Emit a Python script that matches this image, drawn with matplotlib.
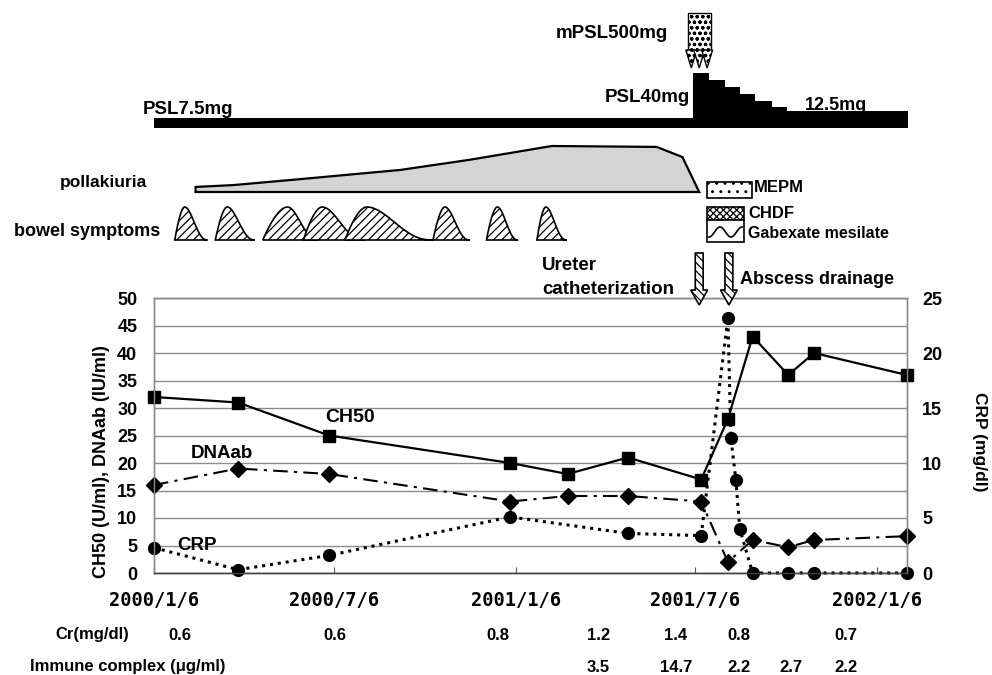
# -*- coding: utf-8 -*-
import numpy as np
import pandas as pd
import matplotlib
matplotlib.use("Agg")
import matplotlib.pyplot as plt
import matplotlib.dates as mdates
from matplotlib.patches import Rectangle, Polygon, FancyArrow
from matplotlib.transforms import blended_transform_factory

plt.rcParams['font.family'] = ['Liberation Sans', 'DejaVu Sans']
plt.rcParams['font.weight'] = 'bold'
plt.rcParams['hatch.linewidth'] = 0.9

# 检查值 (CH50, DNAab: 左轴; CRP: 右轴)
lab_dates = pd.to_datetime(["2000-01-06", "2000-03-31", "2000-07-01", "2000-12-31",
                            "2001-02-27", "2001-04-29", "2001-07-12", "2001-08-08",
                            "2001-09-02", "2001-10-08", "2001-11-03", "2002-02-05"])
ch50 = [32, 31, 25, 20, 18, 21, 17, 28, 43, 36, 40, 36]
dnaab = [16, 19, 18, 13, 14, 14, 13, 2, 6, 4.7, 6, 6.7]

crp_dates = pd.to_datetime(["2000-01-06", "2000-03-31", "2000-07-01", "2000-12-31",
                            "2001-04-29", "2001-07-12", "2001-08-08", "2001-08-11",
                            "2001-08-16", "2001-08-20", "2001-09-02", "2001-10-08",
                            "2001-11-03", "2002-02-05"])
crp = [2.3, 0.3, 1.6, 5.1, 3.6, 3.4, 23.2, 12.3, 8.5, 4.0, 0, 0, 0, 0]

xtick_dates = pd.to_datetime(["2000-01-06", "2000-07-06", "2001-01-06",
                              "2001-07-06", "2002-01-06"])
xtick_labels = ["2000/1/6", "2000/7/6", "2001/1/6", "2001/7/6", "2002/1/6"]

# 治疗经过
psl_dates = pd.to_datetime(["2000-01-04", "2001-07-04", "2001-07-20", "2001-08-05",
                            "2001-08-20", "2001-09-04", "2001-09-22", "2001-10-07",
                            "2002-02-11"])
psl_dose = [7.5, 40, 35, 30, 25, 20, 15, 12.5]
mpsl_date = pd.Timestamp("2001-07-10")
ureter_date = pd.Timestamp("2001-07-10")
drainage_date = pd.Timestamp("2001-08-09")

# 症状
poll_dates = pd.to_datetime(["2000-02-17", "2000-03-26", "2000-06-02", "2000-09-11",
                             "2000-11-20", "2001-02-11", "2001-05-28", "2001-06-23",
                             "2001-07-10"])
poll_level = [1.1, 1.5, 2.8, 4.8, 7.0, 10.0, 9.8, 7.6, 0.0]

bowel_onset = pd.to_datetime(["2000-01-27", "2000-03-08", "2000-04-25", "2000-06-05",
                              "2000-07-17", "2000-10-14", "2000-12-07", "2001-01-27"])
bowel_peak = pd.to_datetime(["2000-02-06", "2000-03-20", "2000-05-20", "2000-06-24",
                             "2000-08-08", "2000-10-26", "2000-12-18", "2001-02-05"])
bowel_end = pd.to_datetime(["2000-02-29", "2000-04-17", "2000-06-20", "2000-08-06",
                            "2000-10-14", "2000-11-20", "2001-01-08", "2001-02-26"])

# 下方表格
cr_dates = pd.to_datetime(["2000-02-01", "2000-07-07", "2000-12-19", "2001-03-30",
                           "2001-06-16", "2001-08-19", "2001-12-05"])
cr_values = ["0.6", "0.6", "0.8", "1.2", "1.4", "0.8", "0.7"]
ic_dates = pd.to_datetime(["2001-03-30", "2001-06-17", "2001-08-19", "2001-10-11",
                           "2001-12-05"])
ic_values = ["3.5", "14.7", "2.2", "2.7", "2.2"]

W, H = 992, 675
fig = plt.figure(figsize=(W / 100, H / 100), dpi=100)
fig.patch.set_facecolor('white')

ax = fig.add_axes([154 / W, 1 - 573 / H, (907 - 154) / W, (573 - 298) / H])
ax2 = ax.twinx()
top = fig.add_axes([154 / W, 1 - 298 / H, (907 - 154) / W, 298 / H], sharex=ax)
top.set_facecolor('none')
over = fig.add_axes([0, 0, 1, 1])
over.set_facecolor('none')

# ---------- 主图 ----------
ax.plot(lab_dates, ch50, color='black', lw=1.6, marker='s', ms=8.5, zorder=3, clip_on=False)
ax.plot(lab_dates, dnaab, color='black', lw=1.5, ls=(0, (7, 3, 1.5, 3)),
        marker='D', ms=8, zorder=3, clip_on=False)
ax2.plot(crp_dates, crp, color='black', lw=2.2, ls=(0, (1, 1.6)),
         marker='o', ms=8.5, clip_on=False)

ax.set_xlim(lab_dates[0], lab_dates[-1])
ax.set_ylim(0, 50)
ax.set_yticks(np.arange(0, 51, 5))
ax2.set_ylim(0, 25)
ax2.set_yticks(np.arange(0, 26, 5))
ax.set_xticks(xtick_dates)
ax.set_xticklabels(xtick_labels, fontfamily='DejaVu Sans Mono', fontsize=13.5,
                   fontweight='bold')
ax.tick_params(axis='x', direction='in', length=4, color='#555555', pad=13)
ax.tick_params(axis='y', length=0, pad=12, labelsize=13)
ax2.tick_params(axis='y', length=0, pad=11, labelsize=13)
ax.yaxis.grid(True, color='#8c8c8c', lw=1.0)
ax.set_axisbelow(True)
for a in (ax, ax2):
    for s in a.spines.values():
        s.set_color('#8c8c8c')
        s.set_linewidth(1.0)
    a.spines['bottom'].set_color('#444444')

# ---------- 上方治疗/症状 ----------
top.set_ylim(298, 0)
top.axis('off')

# PSL 剂量条
px_per_mg = 1.375
bar_base = 128
psl_x = mdates.date2num(psl_dates)
psl_y = np.array(psl_dose + [psl_dose[-1]])
top.fill_between(psl_x, bar_base, bar_base - psl_y * px_per_mg, step='post',
                 color='black', lw=0)

# mPSL 脉冲箭头
cx = mdates.date2num(mpsl_date)
top.add_patch(Rectangle((cx - 11.5, 13), 23, 38, fc='white', ec='black',
                        hatch='ooo', lw=1.0))
for dx in (-8, 0, 8):
    top.add_patch(Polygon([(cx + dx - 5.5, 50), (cx + dx + 5.5, 50), (cx + dx, 68)],
                          closed=True, fc='white', ec='black', hatch='ooo', lw=1.0))

# 尿频
px = mdates.date2num(poll_dates)
poll_base = 192
verts = [(px[0], poll_base)] + [(x, poll_base - v * 4.6) for x, v in zip(px, poll_level)]
top.add_patch(Polygon(verts, closed=True, fc='#d4d4d4', ec='black', lw=1.6))

# 肠道症状
bowel_base = 240
u = np.linspace(0, 1, 40)
s = 3 * u ** 2 - 2 * u ** 3
for x0, xp, x1 in zip(mdates.date2num(bowel_onset), mdates.date2num(bowel_peak),
                      mdates.date2num(bowel_end)):
    xs = np.concatenate([x0 + (xp - x0) * u, xp + (x1 - xp) * u])
    ys = np.concatenate([bowel_base - 33 * np.sqrt(s), bowel_base - 33 * (1 - s) ** 1.3])
    top.add_patch(Polygon(np.column_stack([xs, ys]), closed=True, fc='white',
                          ec='black', hatch='////', lw=1.2))

# 输尿管导管 / 脓肿引流 箭头
for d in (ureter_date, drainage_date):
    top.add_patch(FancyArrow(mdates.date2num(d), 253, 0, 52, width=8, head_width=17,
                             head_length=15, length_includes_head=True, fc='white',
                             ec='black', hatch='\\\\\\\\', lw=1.2, clip_on=False))

# ---------- 文字与图例 ----------
over.set_xlim(0, W)
over.set_ylim(H, 0)
over.axis('off')

over.text(143, 109, "PSL7.5mg", fontsize=13.5, ha='left', va='center')
over.text(668, 33, "mPSL500mg", fontsize=13.5, ha='right', va='center')
over.text(690, 97, "PSL40mg", fontsize=13.5, ha='right', va='center')
over.text(805, 106, "12.5mg", fontsize=13, ha='left', va='center')
over.text(147, 183, "pollakiuria", fontsize=12.5, ha='right', va='center')
over.text(160, 232, "bowel symptoms", fontsize=13, ha='right', va='center')

over.add_patch(Rectangle((707, 182), 45, 16, fc='white', ec='black', hatch='..', lw=1.2))
over.text(754, 188, "MEPM", fontsize=12, ha='left', va='center')
over.add_patch(Rectangle((707, 207), 37, 13, fc='white', ec='black', hatch='xxxxx', lw=1.2))
over.add_patch(Rectangle((707, 220), 37, 22, fc='white', ec='black', lw=1.2))
wx = np.linspace(709, 742, 60)
over.plot(wx, 232 + 5 * np.sin((wx - 709) / 33 * 3 * np.pi + np.pi / 2), color='black', lw=1.2)
over.text(748, 214, "CHDF", fontsize=12, ha='left', va='center')
over.text(748, 234, "Gabexate mesilate", fontsize=11.5, ha='left', va='center')

over.text(542, 265, "Ureter", fontsize=13.5, ha='left', va='center')
over.text(542, 290, "catheterization", fontsize=13.5, ha='left', va='center')
over.text(740, 279, "Abscess drainage", fontsize=13, ha='left', va='center')

over.text(350, 418, "CH50", fontsize=14, ha='center', va='center')
over.text(222, 453, "DNAab", fontsize=13.5, ha='center', va='center')
over.text(197, 546, "CRP", fontsize=13.5, ha='center', va='center')

over.text(102, 462, "CH50 (U/ml), DNAab (IU/ml)", fontsize=13, rotation=90,
          ha='center', va='center')
over.text(980, 442, "CRP (mg/dl)", fontsize=12.5, rotation=-90, ha='center', va='center')

# 下方 Cr 与免疫复合物
blend = blended_transform_factory(ax.transData, over.transData)
over.text(55, 635, "Cr(mg/dl)", fontsize=12, ha='left', va='center')
over.text(30, 667, "Immune complex (μg/ml)", fontsize=12, ha='left', va='center')
for d, v in zip(cr_dates, cr_values):
    over.text(mdates.date2num(d), 635, v, fontsize=12, ha='center', va='center',
              transform=blend)
for d, v in zip(ic_dates, ic_values):
    over.text(mdates.date2num(d), 667, v, fontsize=12, ha='center', va='center',
              transform=blend)

fig.savefig("out.png", dpi=100, facecolor='white')
